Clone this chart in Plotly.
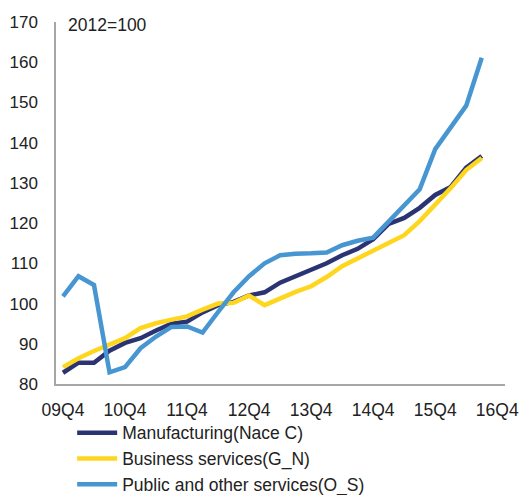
import plotly.graph_objects as go

quarters = ["09Q4","10Q1","10Q2","10Q3","10Q4","11Q1","11Q2","11Q3","11Q4","12Q1","12Q2","12Q3","12Q4",
            "13Q1","13Q2","13Q3","13Q4","14Q1","14Q2","14Q3","14Q4","15Q1","15Q2","15Q3","15Q4",
            "16Q1","16Q2","16Q3"]
tick_labels = ["09Q4","10Q4","11Q4","12Q4","13Q4","14Q4","15Q4","16Q4"]

manufacturing = [82.8, 85.3, 85.3, 88.3, 90.2, 91.4, 93.3, 95.0, 95.5, 97.8, 99.6, 100.4, 102.0,
                 102.8, 105.2, 106.8, 108.3, 110.0, 112.0, 113.6, 116.0, 119.8, 121.3, 123.8,
                 127.0, 129.0, 133.8, 136.7]
business = [84.2, 86.4, 88.2, 89.9, 91.4, 93.9, 95.1, 96.0, 96.8, 98.5, 100.0, 100.2, 102.0,
            99.6, 101.3, 102.9, 104.3, 106.6, 109.3, 111.2, 113.2, 115.0, 117.0, 120.5,
            124.5, 128.7, 133.2, 136.2]
public = [101.8, 106.8, 104.6, 82.9, 84.2, 88.9, 91.8, 94.2, 94.3, 92.8, 97.9, 102.8, 106.8,
          110.0, 112.0, 112.4, 112.5, 112.7, 114.5, 115.6, 116.4, 120.5, 124.6, 128.4,
          138.4, 143.8, 149.2, 161.1]

x = list(range(len(quarters)))

fig = go.Figure()
series = [
    ("Manufacturing(Nace C)", manufacturing, "#2B3473"),
    ("Business services(G_N)", business, "#FFD61E"),
    ("Public and other services(O_S)", public, "#4796D2"),
]
for name, vals, col in series:
    fig.add_trace(go.Scatter(x=x, y=vals, mode="lines", name=name,
                             line=dict(color=col, width=4.5),
                             customdata=quarters))

# figure is a bit taller than the window so the legend never forces a margin
# change; the extra strip below the visible 495 px is clipped by the page.
FIG_H = 530
fig.update_layout(
    width=521, height=FIG_H,
    margin=dict(l=56, r=16, t=22, b=FIG_H - 384),
    paper_bgcolor="white", plot_bgcolor="white",
    font=dict(family="Liberation Sans, Arial, sans-serif", size=17.5, color="#222222"),
    showlegend=True,
    legend=dict(x=0.036, y=-0.085, xanchor="left", yanchor="top",
                font=dict(size=17.5, color="#222222"), tracegroupgap=0,
                itemwidth=40, bgcolor="rgba(0,0,0,0)"),
    xaxis=dict(range=[-0.45, 28.5], tickmode="array", automargin=False,
               tickvals=[0, 4, 8, 12, 16, 20, 24, 28], ticktext=tick_labels,
               showgrid=False, zeroline=False, showline=True, linecolor="#A6A6A6",
               linewidth=1.5, ticks="", ticklabelstandoff=9, tickfont=dict(size=17.5)),
    yaxis=dict(range=[80, 170], dtick=10, showgrid=False, zeroline=False, automargin=False,
               showline=True, linecolor="#A6A6A6", linewidth=1.5, ticks="",
               ticklabelstandoff=13, tickfont=dict(size=17)),
    annotations=[dict(text="2012=100", xref="paper", yref="paper", x=0.022, y=0.992,
                      xanchor="left", yanchor="middle", showarrow=False,
                      font=dict(size=17.5, color="#222222"))],
)

post = (
    "document.documentElement.style.margin='0';"
    "document.body.style.margin='0';"
    "document.body.style.overflow='hidden';"
    "var d=document.getElementById('{plot_id}');"
    "d.parentElement.style.height='495px';"
    "d.parentElement.style.width='521px';"
    "d.parentElement.style.overflow='hidden';"
)
fig.write_html("out.html", config={"displayModeBar": False}, post_script=post)
